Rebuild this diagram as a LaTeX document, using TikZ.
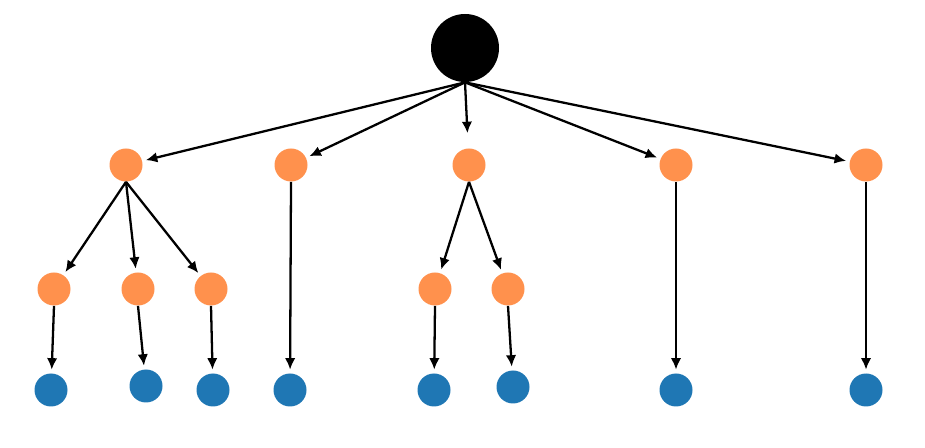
\documentclass[tikz,border=0pt]{standalone}
\usetikzlibrary{arrows.meta}
\definecolor{treeorange}{RGB}{255,145,77}
\definecolor{treeblue}{RGB}{31,119,180}
\begin{document}
\begin{tikzpicture}[x=0.02cm, y=-0.02cm,
    dot/.style={circle, inner sep=0pt, minimum size=33*0.02cm},
    inner/.style={dot, fill=treeorange},
    leaf/.style={dot, fill=treeblue},
    edge/.style={line width=1.3pt, -{Latex[length=2.3mm, width=2.1mm]}, shorten >=2pt}]
      \useasboundingbox (0,0) rectangle (925,448);

      % Root
      \node [circle, fill=black, inner sep=0pt, minimum size=68*0.02cm] (root) at (465,48) {};

      % First level of the tree
      \foreach \i/\x in {1/126, 2/291, 3/469, 4/676, 5/866}
        \node [inner] (o\i) at (\x,165) {};

      % Second level, only under o1 and o3
      \foreach \i/\x in {1/54, 2/138, 3/211, 4/435, 5/508}
        \node [inner] (c\i) at (\x,289) {};

      % Leaves
      \foreach \i/\x/\y in {1/51/390, 2/146/386, 3/213/390, 4/290/390,
                            5/434/390, 6/513/387, 7/676/390, 8/866/390}
        \node [leaf] (b\i) at (\x,\y) {};

      % Edges from the root
      \foreach \i in {1, 2, 4, 5}
        \draw [edge] (root.south) -- (o\i);
      \draw [edge, shorten >=15*0.02cm] (root.south) -- (o3);

      % Edges below the first level
      \foreach \a/\b in {o1/c1, o1/c2, o1/c3, o3/c4, o3/c5}
        \draw [edge] (\a.south) -- (\b);
      \foreach \a/\b in {c1/b1, c2/b2, c3/b3, o2/b4, c4/b5, c5/b6, o4/b7, o5/b8}
        \draw [edge] (\a.south) -- (\b);

    \end{tikzpicture}
\end{document}
